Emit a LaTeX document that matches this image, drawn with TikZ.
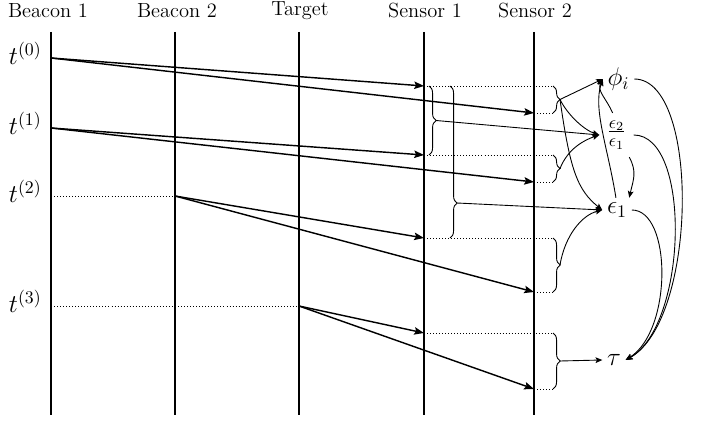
\documentclass[tikz,border=0pt]{standalone}
\usetikzlibrary{arrows.meta,decorations.pathreplacing}
\begin{document}
\begin{tikzpicture}[x=0.5618pt,y=-0.5618pt,
  lifeline/.style={line width=0.8pt},
  msg/.style={line width=0.8pt,-{Stealth[length=5.5pt,width=4.2pt,inset=1pt]}},
  guide/.style={line width=0.45pt,dash pattern=on 0.5pt off 1.2pt},
  bracedeco/.style={line width=0.5pt,decorate,decoration={brace,amplitude=4pt}},
  dep/.style={line width=0.5pt,-{Stealth[length=3.8pt,width=3.2pt,inset=0.8pt]}},
  head/.style={inner sep=0pt,font=\fontsize{11.5pt}{14pt}\selectfont},
  tlabel/.style={inner sep=0pt,anchor=base east,font=\Large},
  qty/.style={inner sep=2.5pt,font=\Large},
]
\useasboundingbox (0,0) rectangle (702,422);

% column headings
\node[head] (hb1) at (48,11) {Beacon 1};
\node[head] (hb2) at (177,11) {Beacon 2};
\node[head] (htg) at (300,11) {Target};
\node[head] (hs1) at (425,11) {Sensor 1};
\node[head] (hs2) at (535,11) {Sensor 2};

% lifelines
\coordinate (b1top) at (51,32);  \coordinate (b1bot) at (51,415);
\coordinate (b2top) at (175,32); \coordinate (b2bot) at (175,415);
\coordinate (tgtop) at (299,32); \coordinate (tgbot) at (299,415);
\coordinate (s1top) at (424,32); \coordinate (s1bot) at (424,415);
\coordinate (s2top) at (534,32); \coordinate (s2bot) at (534,415);
\foreach \a/\b in {b1top/b1bot,b2top/b2bot,tgtop/tgbot,s1top/s1bot,s2top/s2bot}
  \draw[lifeline] (\a) -- (\b);

% time labels
\node[tlabel] (t0) at (42,65) {$t^{(0)}$};
\node[tlabel] (t1) at (42,135) {$t^{(1)}$};
\node[tlabel] (t2) at (42,203) {$t^{(2)}$};
\node[tlabel] (t3) at (42,313) {$t^{(3)}$};

% emission events
\coordinate (e0) at (51,58);
\coordinate (e1) at (51,128);
\coordinate (e2l) at (51,196);  \coordinate (e2) at (175,196);
\coordinate (e3l) at (51,306);  \coordinate (e3) at (299,306);
\draw[guide] (e2l) -- (e2);
\draw[guide] (e3l) -- (e3);

% arrivals at the sensors
\coordinate (r0a) at (424,86);  \coordinate (r0b) at (534,113);
\coordinate (r1a) at (424,155); \coordinate (r1b) at (534,182);
\coordinate (r2a) at (424,238); \coordinate (r2b) at (534,292);
\coordinate (r3a) at (424,333); \coordinate (r3b) at (534,389);

\draw[msg] (e0) -- (r0a);
\draw[msg] (e0) -- (r0b);
\draw[msg] (e1) -- (r1a);
\draw[msg] (e1) -- (r1b);
\draw[msg] (e2) -- (r2a);
\draw[msg] (e2) -- (r2b);
\draw[msg] (e3) -- (r3a);
\draw[msg] (e3) -- (r3b);

% guides out to the braces
\coordinate (q0a) at (553,86);  \coordinate (q0b) at (553,113);
\coordinate (q1a) at (553,155); \coordinate (q1b) at (553,182);
\coordinate (q2a) at (553,238); \coordinate (q2b) at (553,292);
\coordinate (q3a) at (553,333); \coordinate (q3b) at (553,389);
\foreach \a/\b in {r0a/q0a,r0b/q0b,r1a/q1a,r1b/q1b,r2a/q2a,r2b/q2b,r3a/q3a,r3b/q3b}
  \draw[guide] (\a) -- (\b);

% braces grouping arrival times
\draw[bracedeco] (q0a) -- (q0b);
\draw[bracedeco] (q1a) -- (q1b);
\draw[bracedeco] (q2a) -- (q2b);
\draw[bracedeco] (q3a) -- (q3b);
\coordinate (k0) at (560,99.5);
\coordinate (k1) at (560,168.5);
\coordinate (k2) at (560,265);
\coordinate (k3) at (560,361);

\coordinate (u0) at (429,86);  \coordinate (u1) at (429,155);
\coordinate (v0) at (450,86);  \coordinate (v1) at (450,238);
\draw[bracedeco] (u0) -- (u1);
\draw[line width=0.5pt,decorate,decoration={brace,amplitude=4pt,aspect=0.77}] (v0) -- (v1);
\coordinate (k4) at (436,120.5);
\coordinate (k5) at (457,203);

% estimated quantities
\node[qty] (phi) at (618.5,79) {$\phi_i$};
\node[qty,inner sep=4pt] (rat) at (616.5,135) {$\frac{\epsilon_2}{\epsilon_1}$};
\node[qty] (eps) at (617,210) {$\epsilon_1$};
\node[qty] (tau) at (614,360) {$\tau$};

% dependencies
\draw[dep] (k0) -- (phi.west);
\draw[dep] (k0) .. controls +(8,16) and +(-15,-5) .. (rat.west);
\draw[dep] (k0) .. controls +(10,70) and +(-25,-20) .. (eps.west);
\draw[dep] (k1) .. controls +(8,-20) and +(-15,5) .. (rat.west);
\draw[dep] (k4) -- (rat.west);
\draw[dep] (k5) -- (eps.west);
\draw[dep] (k2) .. controls +(5,-30) and +(-20,5) .. (eps.west);
\draw[dep] (k3) -- (tau.west);
\draw[dep] (rat.100) .. controls +(-6,-14) and +(-6,12) .. (phi.west);
\draw[dep] (eps.95) .. controls +(-8,-50) and +(-10,30) .. (phi.west);
\draw[dep] (rat.-60) .. controls +(8,15) and +(4,-18) .. (eps.45);
\draw[dep] (phi.east) .. controls +(66,0) and +(72,-40) .. (tau.east);
\draw[dep] (rat.east) .. controls +(58,0) and +(62,-35) .. (tau.east);
\draw[dep] (eps.east) .. controls +(40,0) and +(47,-30) .. (tau.east);
\end{tikzpicture}
\end{document}
